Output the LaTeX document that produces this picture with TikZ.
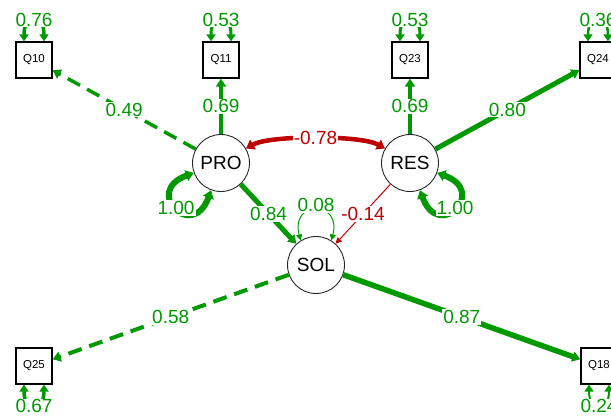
\documentclass[tikz,border=0pt]{standalone}
\usepackage{fontspec}
\setmainfont{Liberation Sans}
\usetikzlibrary{arrows.meta}
\definecolor{pos}{HTML}{009900}
\definecolor{neg}{HTML}{BF0000}
\begin{document}
\begin{tikzpicture}[x=1pt,y=1pt,
  man/.style={draw=black, line width=1.3pt, minimum size=36pt, inner sep=0pt, font=\fontsize{11.5}{12}\selectfont},
  lat/.style={circle, draw=black!85, line width=0.9pt, minimum size=57pt, inner sep=0pt, font=\fontsize{19}{19}\selectfont},
  lab/.style={fill=white, inner sep=1pt, font=\fontsize{19}{19}\selectfont, text=pos},
  nlab/.style={lab, text=neg},
  ed/.style={draw=pos, -{Triangle[length=8pt,width=10pt]}},
  thin ed/.style={-{Triangle[length=6pt,width=6pt]}},
  dsh/.style={dash pattern=on 14pt off 8pt},
  rsd/.style={draw=pos, {Triangle[length=7pt,width=9pt]}-{Triangle[length=7pt,width=9pt]}},
  lp/.style={draw=pos, {Triangle[length=8pt,width=11pt]}-{Triangle[length=8pt,width=11pt]}},
]
\useasboundingbox (0,0) rectangle (611,416);

% manifest variables
\node[man] (q10) at (34,356) {Q10};
\node[man] (q11) at (221,356) {Q11};
\node[man] (q23) at (410,356) {Q23};
\node[man] (q24) at (598,356) {Q24};
\node[man] (q25) at (34,50) {Q25};
\node[man] (q18) at (599,50) {Q18};

% latent variables
\node[lat] (pro) at (221,253) {PRO};
\node[lat] (res) at (410,253) {RES};
\node[lat] (sol) at (316,151) {SOL};

% loadings
\draw[ed, dsh, line width=3.5pt] (pro) -- node[lab]{0.49} (q10);
\draw[ed, line width=4.5pt] (pro) -- node[lab]{0.69} (q11);
\draw[ed, line width=4.5pt] (res) -- node[lab]{0.69} (q23);
\draw[ed, line width=5pt] (res) -- node[lab]{0.80} (q24);
\draw[ed, dsh, line width=4pt] (sol) -- node[lab]{0.58} (q25);
\draw[ed, line width=5.5pt] (sol) -- node[lab]{0.87} (q18);

% regressions
\draw[ed, line width=5pt] (pro) -- node[lab]{0.84} (sol);
\draw[ed, thin ed, draw=neg, line width=1pt] (res) -- node[nlab]{-0.14} (sol);

% covariance
\draw[draw=neg, line width=4.5pt, {Triangle[length=8pt,width=11pt]}-{Triangle[length=8pt,width=11pt]}]
  (pro) to[out=30, in=150, looseness=0.5] node[nlab]{-0.78} (res);

% latent variances
\draw[lp, line width=6pt] (pro.200) .. controls +(200:55) and +(250:55) .. (pro.250) node[lab, pos=0.5]{1.00};
\draw[lp, line width=6pt] (res.340) .. controls +(340:55) and +(290:55) .. (res.290) node[lab, pos=0.5]{1.00};
\draw[draw=pos, line width=1pt, {Triangle[length=6pt,width=6pt]}-{Triangle[length=6pt,width=6pt]}]
  (sol.122) .. controls +(105:42) and +(75:42) .. (sol.58) node[lab, pos=0.5, yshift=5pt]{0.08};

% residual variances
\draw[rsd, line width=3.5pt] ([xshift=-10pt]q10.north) .. controls +(0,29) and +(0,29) .. ([xshift=10pt]q10.north) node[lab, pos=0.5]{0.76};
\draw[rsd, line width=3pt] ([xshift=-10pt]q11.north) .. controls +(0,29) and +(0,29) .. ([xshift=10pt]q11.north) node[lab, pos=0.5]{0.53};
\draw[rsd, line width=3pt] ([xshift=-10pt]q23.north) .. controls +(0,29) and +(0,29) .. ([xshift=10pt]q23.north) node[lab, pos=0.5]{0.53};
\draw[rsd, line width=2.5pt] ([xshift=-10pt]q24.north) .. controls +(0,29) and +(0,29) .. ([xshift=10pt]q24.north) node[lab, pos=0.5]{0.36};
\draw[rsd, line width=3.5pt] ([xshift=-10pt]q25.south) .. controls +(0,-29) and +(0,-29) .. ([xshift=10pt]q25.south) node[lab, pos=0.5]{0.67};
\draw[rsd, line width=2pt] ([xshift=-10pt]q18.south) .. controls +(0,-29) and +(0,-29) .. ([xshift=10pt]q18.south) node[lab, pos=0.5]{0.24};
\end{tikzpicture}
\end{document}
